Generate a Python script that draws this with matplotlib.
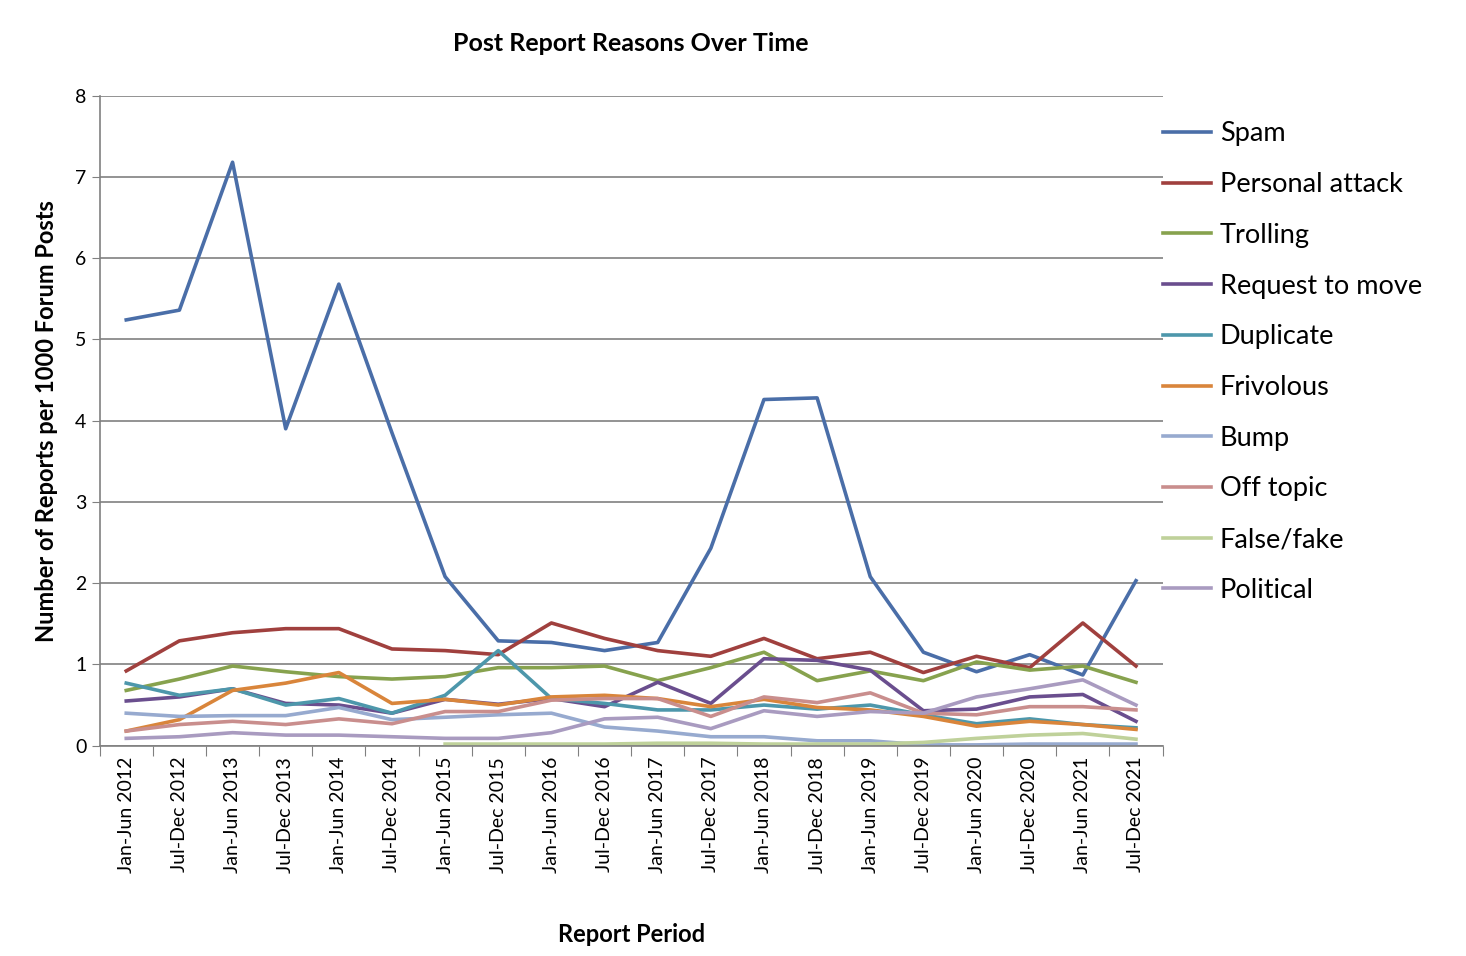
import matplotlib
matplotlib.use("Agg")
import matplotlib.pyplot as plt
import numpy as np

plt.rcParams["font.family"] = "Lato"

periods = []
for year in range(2012, 2022):
    periods += [f"Jan-Jun {year}", f"Jul-Dec {year}"]

spam = [5.24, 5.36, 7.18, 3.90, 5.68, 3.85, 2.08, 1.29, 1.27, 1.17,
        1.27, 2.43, 4.26, 4.28, 2.08, 1.15, 0.91, 1.12, 0.87, 2.03]
personal_attack = [0.92, 1.29, 1.39, 1.44, 1.44, 1.19, 1.17, 1.12, 1.51, 1.32,
                   1.17, 1.10, 1.32, 1.07, 1.15, 0.90, 1.10, 0.96, 1.51, 0.98]
trolling = [0.68, 0.82, 0.98, 0.91, 0.85, 0.82, 0.85, 0.96, 0.96, 0.98,
            0.80, 0.96, 1.15, 0.80, 0.92, 0.80, 1.03, 0.93, 0.98, 0.78]
request_to_move = [0.55, 0.60, 0.70, 0.52, 0.50, 0.40, 0.57, 0.51, 0.58, 0.48,
                   0.78, 0.52, 1.07, 1.05, 0.93, 0.43, 0.45, 0.60, 0.63, 0.30]
duplicate = [0.77, 0.62, 0.70, 0.50, 0.58, 0.40, 0.62, 1.17, 0.58, 0.52,
             0.44, 0.44, 0.50, 0.45, 0.50, 0.38, 0.27, 0.33, 0.26, 0.22]
frivolous = [0.18, 0.32, 0.68, 0.77, 0.90, 0.52, 0.57, 0.50, 0.60, 0.62,
             0.58, 0.48, 0.57, 0.47, 0.44, 0.36, 0.24, 0.30, 0.26, 0.20]
bump = [0.40, 0.36, 0.37, 0.37, 0.47, 0.32, 0.35, 0.38, 0.40, 0.23,
        0.18, 0.11, 0.11, 0.06, 0.06, 0.01, 0.01, 0.02, 0.02, 0.02]
off_topic = [0.18, 0.26, 0.30, 0.26, 0.33, 0.27, 0.42, 0.42, 0.56, 0.58,
             0.58, 0.36, 0.60, 0.53, 0.65, 0.40, 0.38, 0.48, 0.48, 0.44]
false_fake = [None] * 6 + [0.02, 0.02, 0.02, 0.02, 0.03, 0.03, 0.02, 0.02,
                           0.02, 0.04, 0.09, 0.13, 0.15, 0.08]
political = [0.09, 0.11, 0.16, 0.13, 0.13, 0.11, 0.09, 0.09, 0.16, 0.33,
             0.35, 0.21, 0.43, 0.36, 0.42, 0.40, 0.60, 0.70, 0.81, 0.50]

series = [
    ("Spam", spam, "#4A6EA8"),
    ("Personal attack", personal_attack, "#A0403E"),
    ("Trolling", trolling, "#87A24E"),
    ("Request to move", request_to_move, "#6A4E8E"),
    ("Duplicate", duplicate, "#4D97AB"),
    ("Frivolous", frivolous, "#D9853B"),
    ("Bump", bump, "#97AACF"),
    ("Off topic", off_topic, "#C98E8D"),
    ("False/fake", false_fake, "#BFD19A"),
    ("Political", political, "#A99BC0"),
]

fig = plt.figure(figsize=(14.66, 9.56), dpi=100)
ax = fig.add_axes([0.068, 0.22, 0.725, 0.68])
x = np.arange(len(periods)) + 0.5
for name, values, color in series:
    y = np.array([np.nan if v is None else v for v in values], dtype=float)
    ax.plot(x, y, color=color, linewidth=2.6, label=name)

ax.set_xlim(0, len(periods))
ax.set_ylim(0, 8)
ax.set_yticks(range(0, 9))
ax.set_xticks(np.arange(len(periods) + 1))
ax.set_xticklabels([])
ax.set_xticks(x, minor=True)
ax.set_xticklabels(periods, minor=True, rotation=90, fontsize=14)
ax.tick_params(axis="x", which="minor", length=0, pad=8)
ax.tick_params(axis="x", which="major", length=7, color="#808080")
ax.tick_params(axis="y", length=6, color="#808080", labelsize=14)
ax.grid(axis="y", color="#808080", linewidth=1.2)
ax.set_axisbelow(True)
for side in ("top", "right"):
    ax.spines[side].set_visible(False)
for side in ("left", "bottom"):
    ax.spines[side].set_color("#808080")
    ax.spines[side].set_linewidth(1.2)

ax.set_title("Post Report Reasons Over Time", fontsize=18, fontweight="bold", pad=32)
ax.set_xlabel("Report Period", fontsize=17, fontweight="bold", labelpad=36)
ax.set_ylabel("Number of Reports per 1000 Forum Posts", fontsize=17,
              fontweight="bold", labelpad=12)
ax.legend(loc="center left", bbox_to_anchor=(0.99, 0.59), frameon=False,
          fontsize=19.5, handlelength=1.8, labelspacing=0.95, handletextpad=0.3,
          borderaxespad=0.0)

fig.savefig("out.png", dpi=100)
